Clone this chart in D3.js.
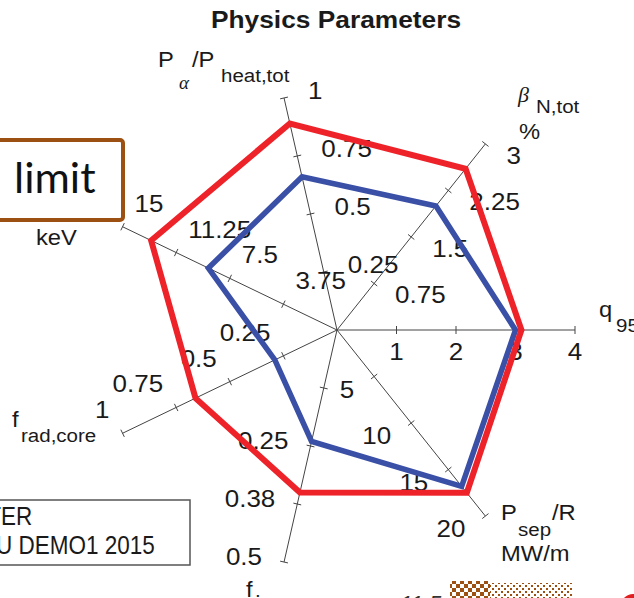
<!DOCTYPE html>
<html>
<head>
<meta charset="utf-8">
<script src="https://cdn.jsdelivr.net/npm/d3@7"></script>
<style>
  body { margin: 0; background: #fff; }
  svg { display: block; }
</style>
</head>
<body>
<div id="radar"></div>
<script>
// chart values, one entry per axis going counter-clockwise from q95
var axisNames = ["q95", "betaN", "Palpha", "T", "fradcore", "f", "PsepR"]
var axisMax = [4, 3, 1, 15, 1, 0.5, 20]
var tickValues = [
  [1, 2, 3, 4],
  [0.75, 1.5, 2.25, 3],
  [0.25, 0.5, 0.75, 1],
  [3.75, 7.5, 11.25, 15],
  [0.25, 0.5, 0.75, 1],
  [0.125, 0.25, 0.375, 0.5],
  [5, 10, 15, 20]
]
var tickLabels = [
  ["1", "2", "3", "4"],
  ["0.75", "1.5", "2.25", "3"],
  ["0.25", "0.5", "0.75", "1"],
  ["3.75", "7.5", "11.25", "15"],
  ["0.25", "0.5", "0.75", "1"],
  ["", "0.25", "0.38", "0.5"],
  ["5", "10", "15", "20"]
]
var redValues = [3.1, 2.6, 0.89, 13, 0.66, 0.35, 17.5]
var blueValues = [3.0, 2.0, 0.66, 9, 0.29, 0.24, 16.8]
var legendNames = ["ITER", "EU DEMO1 2015"]

var width = 634, height = 598
var cx = 337, cy = 330, R = 238
var ink = "#1a1a1a"

var svg = d3.select("#radar").append("svg")
    .attr("width", width)
    .attr("height", height)

var n = axisNames.length
var angle = d3.scaleLinear().domain([0, n]).range([0, 2 * Math.PI])
var scales = axisMax.map(function(m) { return d3.scaleLinear().domain([0, m]).range([0, R]) })

function pt(i, v) {
  var a = angle(i), r = scales[i](v)
  return [cx + r * Math.cos(a), cy - r * Math.sin(a)]
}

// text helper, sx stretches the glyphs sideways like the original
function txt(g, x, y, s, o) {
  o = o || {}
  return g.append("text")
    .attr("transform", "translate(" + x + "," + y + ") scale(" + (o.sx || 1) + ",1)")
    .attr("text-anchor", o.anchor || "start")
    .attr("font-family", o.family || "'Liberation Sans', Arial, sans-serif")
    .attr("font-size", o.size || 23)
    .attr("font-weight", o.weight || "normal")
    .attr("font-style", o.style || "normal")
    .attr("fill", o.fill || ink)
    .text(s)
}

// axes with ticks
var axisG = svg.append("g")
axisNames.forEach(function(name, i) {
  var end = pt(i, axisMax[i])
  axisG.append("line")
    .attr("x1", cx).attr("y1", cy)
    .attr("x2", end[0]).attr("y2", end[1])
    .attr("stroke", "#444").attr("stroke-width", 1)
  var a = angle(i)
  var px = Math.sin(a) * 4, py = Math.cos(a) * 4   // perpendicular half tick
  tickValues[i].forEach(function(t) {
    var p = pt(i, t)
    axisG.append("line")
      .attr("x1", p[0] - px).attr("y1", p[1] - py)
      .attr("x2", p[0] + px).attr("y2", p[1] + py)
      .attr("stroke", "#444").attr("stroke-width", 1)
  })
})

// tick label placement per axis: [dx, dy, anchor]
var labelOffset = [
  [0, 30, "middle"],
  [21, 20, "start"],
  [24, 1, "start"],
  [12, -15, "start"],
  [-13, -15, "end"],
  [-22, 3, "end"],
  [-20, 21, "end"]
]
var labelG = svg.append("g")
tickValues.forEach(function(ticks, i) {
  ticks.forEach(function(t, k) {
    var p = pt(i, t), o = labelOffset[i]
    txt(labelG, p[0] + o[0], p[1] + o[1], tickLabels[i][k], {anchor: o[2], sx: 1.13})
  })
})

// the two polygons
var line = d3.line().curve(d3.curveLinearClosed)
function poly(vals, color, w) {
  svg.append("path")
    .attr("d", line(vals.map(function(v, i) { return pt(i, v) })))
    .attr("fill", "none")
    .attr("stroke", color)
    .attr("stroke-width", w)
    .attr("stroke-linejoin", "miter")
}
poly(blueValues, "#3a4fa6", 5.5)
poly(redValues, "#ee2229", 6)

// title
txt(svg, 336, 28, "Physics Parameters", {anchor: "middle", weight: "bold", size: 23.5, sx: 1.12})

// axis titles
var tg = svg.append("g")
txt(tg, 158, 67, "P", {size: 22, sx: 1.08})
txt(tg, 179, 89, "\u03b1", {size: 19, style: "italic", family: "'Liberation Serif', serif"})
txt(tg, 192, 67, "/P", {size: 22, sx: 1.08})
txt(tg, 221, 82, "heat,tot", {size: 19, sx: 1.08})

txt(tg, 518, 102, "\u03b2", {size: 22, style: "italic", family: "'Liberation Serif', serif"})
txt(tg, 536, 113, "N,tot", {size: 19, sx: 1.08})
txt(tg, 519, 139, "%", {size: 22, sx: 1.08})

txt(tg, 599, 317, "q", {size: 22, sx: 1.08})
txt(tg, 616, 332, "95", {size: 19, sx: 1.08})

txt(tg, 36, 245, "keV", {size: 22, sx: 1.08})

txt(tg, 12, 427, "f", {size: 22, sx: 1.08})
txt(tg, 21, 442, "rad,core", {size: 19, sx: 1.08})

txt(tg, 246, 597, "f", {size: 22, sx: 1.08})
txt(tg, 255, 597, ".", {size: 19, sx: 1.08})

txt(tg, 501, 520, "P", {size: 22, sx: 1.08})
txt(tg, 518, 536, "sep", {size: 19, sx: 1.08})
txt(tg, 552, 520, "/R", {size: 22, sx: 1.08})
txt(tg, 501, 561, "MW/m", {size: 22, sx: 1.08})

// legend box, cut by the left edge
var lg = svg.append("g")
lg.append("rect")
  .attr("x", -30).attr("y", 500).attr("width", 220).attr("height", 65)
  .attr("fill", "#fff").attr("stroke", "#555").attr("stroke-width", 1.5)
legendNames.forEach(function(s, i) {
  txt(lg, -19, 525 + i * 29, s, {size: 25, sx: 0.9})
})

// "limit" call-out box from the slide
var box = svg.append("g")
box.append("rect")
  .attr("x", -10).attr("y", 140).attr("width", 133).attr("height", 80)
  .attr("rx", 3)
  .attr("fill", "#fff").attr("stroke", "#9c5012").attr("stroke-width", 4)
txt(box, 14, 193, "limit", {size: 43, family: "Lato, sans-serif", fill: "#111"})

// bits of the slide below the chart
var defs = svg.append("defs")
var p1 = defs.append("pattern").attr("id", "dense")
    .attr("width", 8).attr("height", 8).attr("patternUnits", "userSpaceOnUse")
p1.append("rect").attr("x", 0).attr("y", 0).attr("width", 4).attr("height", 4).attr("fill", "#9c5012")
p1.append("rect").attr("x", 4).attr("y", 4).attr("width", 4).attr("height", 4).attr("fill", "#9c5012")
var p2 = defs.append("pattern").attr("id", "sparse")
    .attr("width", 6).attr("height", 6).attr("patternUnits", "userSpaceOnUse")
p2.append("rect").attr("x", 0).attr("y", 0).attr("width", 2).attr("height", 2).attr("fill", "#9c5012")
p2.append("rect").attr("x", 3).attr("y", 3).attr("width", 2).attr("height", 2).attr("fill", "#9c5012")
svg.append("rect").attr("x", 450).attr("y", 581).attr("width", 40).attr("height", 20).attr("fill", "url(#dense)")
svg.append("rect").attr("x", 490).attr("y", 583).attr("width", 83).attr("height", 18).attr("fill", "url(#sparse)")
txt(svg, 400, 611, "11.5", {size: 22, style: "italic", fill: "#333"})
svg.append("circle").attr("cx", 633).attr("cy", 606).attr("r", 12).attr("fill", "#e02020")
</script>
</body>
</html>
